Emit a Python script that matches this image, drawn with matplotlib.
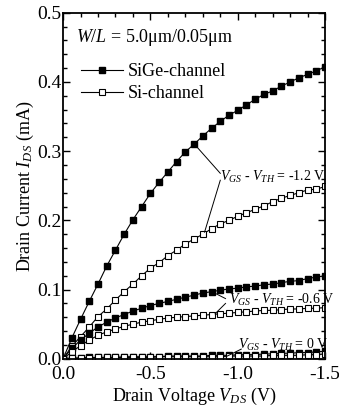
import numpy as np
import matplotlib
matplotlib.use("Agg")
import matplotlib.pyplot as plt
from matplotlib.ticker import MultipleLocator, FixedLocator, FixedFormatter

plt.rcParams['font.family'] = ['Liberation Serif', 'DejaVu Serif']
plt.rcParams['mathtext.fontset'] = 'custom'
plt.rcParams['mathtext.rm'] = 'Liberation Serif'
plt.rcParams['mathtext.it'] = 'Liberation Serif:italic'

# Drain voltage (V), 0 to -1.5 V in 0.05 V steps
vds = [0.0, -0.05, -0.10, -0.15, -0.20, -0.25, -0.30, -0.35, -0.40, -0.45, -0.50,
       -0.55, -0.60, -0.65, -0.70, -0.75, -0.80, -0.85, -0.90, -0.95, -1.00,
       -1.05, -1.10, -1.15, -1.20, -1.25, -1.30, -1.35, -1.40, -1.45, -1.50]

# Drain current (mA)
sige_12 = [0, 0.030, 0.057, 0.083, 0.108, 0.134, 0.157, 0.180, 0.201, 0.220, 0.239,
           0.255, 0.270, 0.285, 0.299, 0.310, 0.322, 0.333, 0.343, 0.352, 0.359,
           0.367, 0.375, 0.382, 0.387, 0.394, 0.400, 0.406, 0.411, 0.416, 0.422]
si_12 = [0, 0.018, 0.032, 0.046, 0.061, 0.072, 0.085, 0.097, 0.108, 0.120, 0.131,
         0.139, 0.149, 0.157, 0.166, 0.173, 0.180, 0.188, 0.195, 0.200, 0.206,
         0.211, 0.216, 0.221, 0.227, 0.232, 0.236, 0.240, 0.244, 0.245, 0.249]
sige_06 = [0, 0.015, 0.027, 0.037, 0.046, 0.053, 0.059, 0.064, 0.069, 0.073, 0.077,
           0.080, 0.083, 0.086, 0.089, 0.092, 0.095, 0.097, 0.099, 0.101, 0.102,
           0.104, 0.105, 0.107, 0.108, 0.110, 0.112, 0.113, 0.116, 0.118, 0.120]
si_06 = [0, 0.010, 0.019, 0.027, 0.034, 0.039, 0.043, 0.047, 0.050, 0.053, 0.055,
         0.057, 0.059, 0.060, 0.061, 0.062, 0.063, 0.064, 0.065, 0.066, 0.067,
         0.068, 0.069, 0.070, 0.070, 0.071, 0.072, 0.072, 0.073, 0.073, 0.074]
sige_0 = [0, 0.001, 0.001, 0.002, 0.002, 0.002, 0.002, 0.003, 0.003, 0.003, 0.003,
          0.003, 0.004, 0.004, 0.004, 0.004, 0.004, 0.005, 0.005, 0.005, 0.006,
          0.006, 0.006, 0.007, 0.007, 0.008, 0.008, 0.009, 0.009, 0.010, 0.011]
si_0 = [0, 0.001, 0.001, 0.001, 0.002, 0.002, 0.002, 0.002, 0.002, 0.002, 0.002,
        0.003, 0.003, 0.003, 0.003, 0.003, 0.003, 0.003, 0.003, 0.004, 0.004,
        0.004, 0.004, 0.004, 0.005, 0.005, 0.005, 0.005, 0.006, 0.006, 0.007]

xticks = [0.0, -0.5, -1.0, -1.5]
xticklabels = ["0.0", "-0.5", "-1.0", "-1.5"]
yticks = [0.0, 0.1, 0.2, 0.3, 0.4, 0.5]
yticklabels = ["0.0", "0.1", "0.2", "0.3", "0.4", "0.5"]

fig = plt.figure(figsize=(3.39, 4.11), dpi=100)
ax = fig.add_axes([0.186, 0.127, 0.773, 0.842])

ms = 4.8
lw = 0.8
filled = dict(color='black', marker='s', markersize=ms, linewidth=lw,
              markerfacecolor='black', markeredgecolor='black')
opened = dict(color='black', marker='s', markersize=ms, linewidth=lw,
              markerfacecolor='white', markeredgecolor='black', markeredgewidth=0.8)

l1, = ax.plot(vds, sige_12, **filled)
l2, = ax.plot(vds, si_12, **opened)
ax.plot(vds, sige_06, **filled)
ax.plot(vds, si_06, **opened)
ax.plot(vds, sige_0, **filled)
ax.plot(vds, si_0, **opened)

ax.set_xlim(0.0, -1.5)
ax.set_ylim(0.0, 0.5)
ax.xaxis.set_major_locator(FixedLocator(xticks))
ax.xaxis.set_major_formatter(FixedFormatter(xticklabels))
ax.xaxis.set_minor_locator(MultipleLocator(0.1))
ax.yaxis.set_major_locator(FixedLocator(yticks))
ax.yaxis.set_major_formatter(FixedFormatter(yticklabels))
ax.yaxis.set_minor_locator(MultipleLocator(0.02))
ax.tick_params(which='both', direction='in', top=True, right=True, labelsize=14,
               width=1.0)
ax.tick_params(axis='y', pad=1)
ax.tick_params(axis='x', pad=5)
ax.tick_params(which='major', length=5)
ax.tick_params(which='minor', length=3)
for s in ax.spines.values():
    s.set_linewidth(1.3)

ax.set_xlabel(r"Drain Voltage $V_{DS}$ (V)", fontsize=13, labelpad=2)
ax.set_ylabel(r"Drain Current $I_{DS}$ (mA)", fontsize=13, labelpad=1)

ax.text(0.05, 0.928, r"$W/L$ = 5.0μm/0.05μm", transform=ax.transAxes,
        fontsize=13, va='center', ha='left')
leg = ax.legend([l1, l2], ["SiGe-channel", "Si-channel"], loc='upper left',
                bbox_to_anchor=(0.07, 0.855), frameon=False, fontsize=13,
                handlelength=2.3, handletextpad=0.25, labelspacing=0.3,
                borderaxespad=0, borderpad=0)

ann = 10
ax.text(-0.90, 0.263, r"$V_{GS}$ - $V_{TH}$ = -1.2 V", fontsize=ann,
        ha='left', va='center')
ax.plot([-0.77, -0.90], [0.305, 0.268], color='black', lw=0.7)
ax.plot([-0.81, -0.90], [0.183, 0.258], color='black', lw=0.7)

ax.text(-0.95, 0.085, r"$V_{GS}$ - $V_{TH}$ = -0.6 V", fontsize=ann,
        ha='left', va='center')
ax.plot([-0.86, -0.93], [0.096, 0.087], color='black', lw=0.7)
ax.plot([-0.87, -0.93], [0.065, 0.080], color='black', lw=0.7)

ax.text(-1.0, 0.020, r"$V_{GS}$ - $V_{TH}$ = 0 V", fontsize=ann,
        ha='left', va='center')
ax.plot([-0.94, -1.02], [0.004, 0.014], color='black', lw=0.7)

fig.savefig("out.png", dpi=100)
